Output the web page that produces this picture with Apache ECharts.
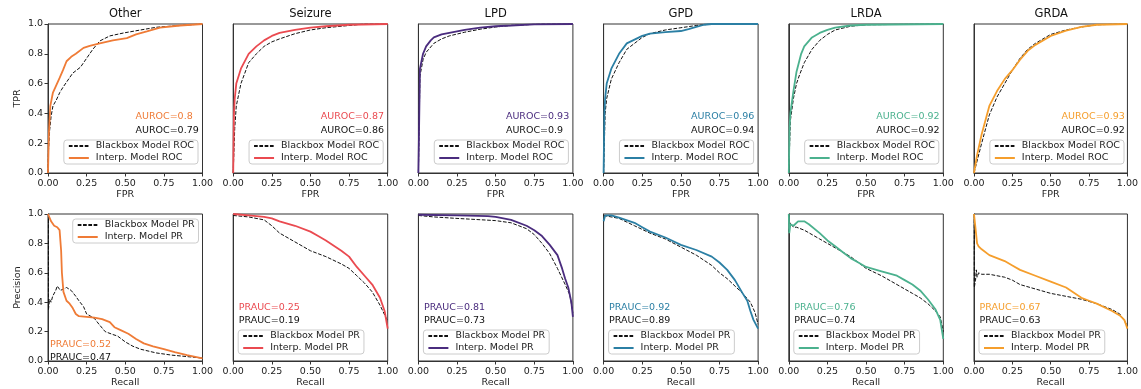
<!DOCTYPE html>
<html><head><meta charset="utf-8">
<script src="https://cdn.jsdelivr.net/npm/echarts@6/dist/echarts.min.js"></script>
<style>html,body{margin:0;padding:0;background:#fff}#c{width:1141px;height:389px}</style>
</head><body><div id="c"></div>
<script>
const classes = ['Other','Seizure','LPD','GPD','LRDA','GRDA'];
const aurocInterp = [0.8, 0.87, 0.93, 0.96, 0.92, 0.93];
const aurocBlack  = [0.79, 0.86, 0.9, 0.94, 0.92, 0.92];
const praucInterp = [0.52, 0.25, 0.81, 0.92, 0.76, 0.67];
const praucBlack  = [0.47, 0.19, 0.73, 0.89, 0.74, 0.63];
const xTicks = [0, 0.25, 0.5, 0.75, 1];
const yTicks = [0, 0.2, 0.4, 0.6, 0.8, 1];

// ROC curves [FPR, TPR]
const otherRocBB = [[0,0],[0.003,0.15],[0.011,0.29],[0.02,0.38],[0.032,0.45],[0.054,0.49],[0.076,0.54],[0.1,0.58],[0.12,0.61],[0.16,0.67],[0.21,0.71],[0.25,0.77],[0.29,0.83],[0.335,0.886],[0.4,0.92],[0.49,0.94],[0.6,0.96],[0.7,0.978],[0.855,0.99],[1,1]];
const otherRocIN = [[0,0],[0.006,0.27],[0.015,0.45],[0.032,0.54],[0.054,0.59],[0.076,0.64],[0.097,0.69],[0.12,0.75],[0.15,0.78],[0.18,0.8],[0.23,0.84],[0.27,0.853],[0.335,0.87],[0.42,0.89],[0.51,0.905],[0.57,0.93],[0.64,0.95],[0.725,0.975],[0.855,0.99],[1,1]];
const seizRocBB = [[0,0],[0.01,0.3],[0.02,0.45],[0.05,0.6],[0.1,0.74],[0.15,0.8],[0.2,0.85],[0.25,0.88],[0.3,0.9],[0.4,0.935],[0.5,0.96],[0.6,0.975],[0.75,0.99],[0.85,1],[1,1]];
const seizRocIN = [[0,0],[0.005,0.4],[0.01,0.5],[0.02,0.6],[0.05,0.7],[0.1,0.8],[0.15,0.85],[0.2,0.89],[0.25,0.92],[0.3,0.94],[0.4,0.96],[0.5,0.975],[0.6,0.985],[0.75,0.995],[1,1]];
const lpdRocBB = [[0,0],[0.01,0.65],[0.03,0.76],[0.05,0.81],[0.1,0.87],[0.15,0.9],[0.2,0.92],[0.3,0.945],[0.4,0.965],[0.5,0.98],[0.6,0.99],[0.8,1],[1,1]];
const lpdRocIN = [[0,0],[0.01,0.7],[0.03,0.8],[0.05,0.85],[0.08,0.89],[0.1,0.91],[0.15,0.93],[0.2,0.94],[0.25,0.95],[0.3,0.96],[0.4,0.975],[0.5,0.985],[0.6,0.99],[0.75,0.998],[1,1]];
const gpdRocBB = [[0,0],[0.01,0.4],[0.02,0.5],[0.05,0.63],[0.1,0.74],[0.15,0.83],[0.2,0.87],[0.25,0.91],[0.3,0.935],[0.4,0.96],[0.5,0.975],[0.6,0.99],[0.7,1],[1,1]];
const gpdRocIN = [[0,0],[0.005,0.4],[0.01,0.5],[0.02,0.6],[0.05,0.7],[0.1,0.8],[0.15,0.87],[0.2,0.895],[0.25,0.92],[0.3,0.935],[0.4,0.945],[0.5,0.953],[0.55,0.965],[0.6,0.98],[0.65,0.995],[0.7,1],[1,1]];
const lrdaRocBB = [[0,0],[0.01,0.35],[0.03,0.5],[0.05,0.6],[0.07,0.66],[0.1,0.74],[0.15,0.83],[0.2,0.89],[0.25,0.93],[0.3,0.96],[0.4,0.985],[0.5,0.995],[1,1]];
const lrdaRocIN = [[0,0],[0.005,0.3],[0.01,0.4],[0.03,0.55],[0.05,0.68],[0.08,0.8],[0.1,0.85],[0.15,0.91],[0.2,0.94],[0.25,0.96],[0.3,0.975],[0.4,0.99],[0.5,0.995],[1,1]];
const grdaRocBB = [[0,0],[0.02,0.08],[0.05,0.2],[0.1,0.39],[0.15,0.51],[0.2,0.6],[0.25,0.69],[0.3,0.77],[0.35,0.83],[0.4,0.87],[0.5,0.93],[0.6,0.96],[0.7,0.98],[0.8,0.995],[1,1]];
const grdaRocIN = [[0,0],[0.02,0.12],[0.05,0.26],[0.1,0.45],[0.15,0.55],[0.2,0.63],[0.25,0.69],[0.3,0.76],[0.35,0.82],[0.4,0.86],[0.5,0.92],[0.6,0.955],[0.7,0.98],[0.8,0.995],[1,1]];

// PR curves [Recall, Precision]
const otherPrBB = [[0.003,1],[0.003,0.35],[0.01,0.42],[0.02,0.4],[0.03,0.44],[0.05,0.48],[0.06,0.51],[0.08,0.48],[0.1,0.49],[0.12,0.5],[0.15,0.48],[0.18,0.44],[0.2,0.41],[0.23,0.37],[0.25,0.32],[0.3,0.29],[0.33,0.25],[0.37,0.2],[0.42,0.18],[0.45,0.17],[0.5,0.13],[0.55,0.1],[0.6,0.08],[0.7,0.055],[0.8,0.04],[0.9,0.03],[1,0.02]];
const otherPrIN = [[0,1],[0.01,1],[0.02,0.95],[0.04,0.92],[0.06,0.91],[0.075,0.89],[0.085,0.75],[0.09,0.6],[0.1,0.47],[0.12,0.41],[0.14,0.39],[0.16,0.36],[0.18,0.32],[0.2,0.305],[0.25,0.3],[0.3,0.295],[0.35,0.285],[0.4,0.265],[0.43,0.23],[0.47,0.21],[0.52,0.185],[0.57,0.15],[0.62,0.12],[0.68,0.1],[0.75,0.08],[0.82,0.06],[0.9,0.04],[1,0.018]];
const seizPrBB = [[0,0.99],[0.1,0.98],[0.2,0.96],[0.25,0.92],[0.3,0.87],[0.4,0.81],[0.5,0.75],[0.55,0.73],[0.6,0.71],[0.7,0.66],[0.75,0.63],[0.8,0.58],[0.85,0.53],[0.9,0.47],[0.95,0.38],[1,0.27]];
const seizPrIN = [[0,1],[0.1,0.99],[0.2,0.98],[0.25,0.97],[0.3,0.95],[0.4,0.92],[0.5,0.88],[0.55,0.85],[0.6,0.82],[0.7,0.75],[0.75,0.71],[0.8,0.64],[0.85,0.58],[0.9,0.52],[0.95,0.43],[0.98,0.34],[1,0.22]];
const lpdPrBB = [[0,0.99],[0.1,0.98],[0.25,0.97],[0.5,0.955],[0.6,0.94],[0.7,0.9],[0.75,0.86],[0.8,0.8],[0.85,0.73],[0.9,0.63],[0.95,0.52],[0.98,0.45],[1,0.33]];
const lpdPrIN = [[0,0.995],[0.25,0.99],[0.45,0.985],[0.5,0.98],[0.6,0.96],[0.7,0.92],[0.75,0.89],[0.8,0.85],[0.85,0.79],[0.9,0.72],[0.93,0.63],[0.95,0.56],[0.97,0.5],[0.99,0.4],[1,0.3]];
const gpdPrBB = [[0,0.99],[0.1,0.97],[0.2,0.92],[0.3,0.87],[0.4,0.83],[0.5,0.775],[0.6,0.72],[0.7,0.65],[0.75,0.6],[0.8,0.56],[0.85,0.51],[0.9,0.46],[0.95,0.4],[0.98,0.33],[1,0.25]];
const gpdPrIN = [[0,0.95],[0.01,0.99],[0.05,0.99],[0.1,0.975],[0.2,0.94],[0.25,0.91],[0.3,0.88],[0.4,0.84],[0.5,0.79],[0.6,0.755],[0.7,0.71],[0.75,0.67],[0.8,0.62],[0.85,0.55],[0.9,0.46],[0.93,0.41],[0.95,0.34],[0.97,0.28],[1,0.22]];
const lrdaPrBB = [[0,0.88],[0.01,0.94],[0.03,0.91],[0.05,0.91],[0.1,0.89],[0.2,0.83],[0.25,0.8],[0.3,0.77],[0.4,0.71],[0.5,0.63],[0.6,0.58],[0.7,0.52],[0.75,0.49],[0.8,0.46],[0.85,0.43],[0.9,0.39],[0.95,0.34],[0.98,0.3],[1,0.2]];
const lrdaPrIN = [[0,1],[0.003,0.87],[0.01,0.93],[0.03,0.92],[0.06,0.95],[0.1,0.95],[0.13,0.93],[0.2,0.87],[0.25,0.82],[0.3,0.78],[0.35,0.74],[0.4,0.7],[0.45,0.67],[0.5,0.64],[0.6,0.61],[0.7,0.58],[0.75,0.55],[0.8,0.52],[0.85,0.48],[0.9,0.42],[0.95,0.35],[0.98,0.28],[1,0.15]];
const grdaPrBB = [[0.002,1],[0.002,0.5],[0.01,0.55],[0.015,0.62],[0.02,0.57],[0.03,0.6],[0.05,0.59],[0.1,0.59],[0.2,0.57],[0.25,0.55],[0.3,0.52],[0.4,0.49],[0.5,0.46],[0.6,0.44],[0.7,0.42],[0.8,0.39],[0.9,0.35],[0.95,0.32],[1,0.24]];
const grdaPrIN = [[0,1],[0.01,0.9],[0.02,0.8],[0.03,0.78],[0.05,0.76],[0.1,0.72],[0.15,0.7],[0.2,0.68],[0.25,0.65],[0.3,0.62],[0.4,0.58],[0.5,0.54],[0.6,0.5],[0.7,0.43],[0.75,0.41],[0.8,0.39],[0.9,0.34],[0.95,0.31],[0.98,0.28],[1,0.22]];

const rocBB = [otherRocBB, seizRocBB, lpdRocBB, gpdRocBB, lrdaRocBB, grdaRocBB];
const rocIN = [otherRocIN, seizRocIN, lpdRocIN, gpdRocIN, lrdaRocIN, grdaRocIN];
const prBB = [otherPrBB, seizPrBB, lpdPrBB, gpdPrBB, lrdaPrBB, grdaPrBB];
const prIN = [otherPrIN, seizPrIN, lpdPrIN, gpdPrIN, lrdaPrIN, grdaPrIN];

const colors = ['#EF7B36','#EA4A50','#4A2C7E','#2B7FA4','#4BB18E','#F59E2C'];
const FONT = '"DejaVu Sans", sans-serif';
const W = 1141;
const pLeft = c => 48 + c * 185.2;
const pW = 154.5, pH = 149;
const rowTop = [24, 214];

const grid = [], xAxis = [], yAxis = [], series = [], legend = [], graphic = [];
for (let r = 0; r < 2; r++) {
  for (let c = 0; c < 6; c++) {
    const k = r * 6 + c;
    grid.push({left: pLeft(c), top: rowTop[r], width: pW, height: pH, show: true,
      borderColor: '#333', borderWidth: 1, backgroundColor: '#fff'});
    xAxis.push({gridIndex: k, type: 'value', min: 0, max: 1, interval: 0.25,
      name: r === 0 ? 'FPR' : 'Recall', nameLocation: 'middle', nameGap: 17,
      nameTextStyle: {fontSize: 9.5, color: '#222', fontFamily: FONT},
      axisLine: {show: true, lineStyle: {color: '#333', width: 1}},
      axisTick: {show: true, length: 3.5, lineStyle: {color: '#333'}},
      axisLabel: {fontSize: 9.5, color: '#222', fontFamily: FONT, margin: 5.5,
        formatter: v => xTicks.includes(v) ? v.toFixed(2) : ''},
      splitLine: {show: false}});
    yAxis.push({gridIndex: k, type: 'value', min: 0, max: 1, interval: 0.2,
      name: c === 0 ? (r === 0 ? 'TPR' : 'Precision') : '', nameLocation: 'middle', nameGap: 25,
      nameTextStyle: {fontSize: 9.5, color: '#222', fontFamily: FONT},
      axisLine: {show: true, lineStyle: {color: '#333', width: 1}},
      axisTick: {show: c === 0, length: 3.5, lineStyle: {color: '#333'}},
      axisLabel: {show: c === 0, fontSize: 9.5, color: '#222', fontFamily: FONT, margin: 5,
        formatter: v => yTicks.some(t => Math.abs(t - v) < 1e-9) ? v.toFixed(1) : ''},
      splitLine: {show: false}});
    const bbName = (r === 0 ? 'Blackbox Model ROC' : 'Blackbox Model PR') + '#' + k;
    const inName = (r === 0 ? 'Interp. Model ROC' : 'Interp. Model PR') + '#' + k;
    series.push({type: 'line', name: bbName, xAxisIndex: k, yAxisIndex: k,
      data: r === 0 ? rocBB[c] : prBB[c], symbol: 'none', animation: false, clip: true,
      lineStyle: {color: '#111', width: 1, type: [3.7, 1.6]}, itemStyle: {color: '#111'}});
    series.push({type: 'line', name: inName, xAxisIndex: k, yAxisIndex: k,
      data: r === 0 ? rocIN[c] : prIN[c], symbol: 'none', animation: false, clip: true,
      lineStyle: {color: colors[c], width: 1.8}, itemStyle: {color: colors[c]}});
    const lg = {data: [bbName, inName], orient: 'vertical', selectedMode: false,
      itemWidth: 20, itemHeight: 12, itemGap: 2, padding: [1, 4, 1, 4],
      borderColor: '#ccc', borderWidth: 1, borderRadius: 3, backgroundColor: 'rgba(255,255,255,0.8)',
      itemStyle: {opacity: 0, borderWidth: 0},
      textStyle: {fontSize: 9.5, color: '#222', fontFamily: FONT, padding: [0, 0, 0, 2]},
      formatter: n => n.split('#')[0]};
    const pRight = pLeft(c) + pW;
    if (r === 0) { lg.right = W - (pRight - 4.5); lg.top = 140; }
    else if (c === 0) { lg.right = W - (pRight - 4); lg.top = 219; }
    else { lg.left = pLeft(c) + 5; lg.top = 330; }
    legend.push(lg);
  }
}
classes.forEach((t, c) => {
  graphic.push({type: 'text', x: pLeft(c) + pW / 2, y: 14,
    style: {text: t, font: '11.5px ' + FONT, fill: '#111', align: 'center', verticalAlign: 'middle'}});
  const ax = pLeft(c) + 87.5;
  graphic.push({type: 'text', x: ax, y: 117,
    style: {text: 'AUROC=' + aurocInterp[c], font: '9.5px ' + FONT, fill: colors[c], align: 'left', verticalAlign: 'middle'}});
  graphic.push({type: 'text', x: ax, y: 131,
    style: {text: 'AUROC=' + aurocBlack[c], font: '9.5px ' + FONT, fill: '#111', align: 'left', verticalAlign: 'middle'}});
  const px = pLeft(c) + (c === 0 ? 2 : 5.5);
  const py = c === 0 ? 345 : 308;
  graphic.push({type: 'text', x: px, y: py,
    style: {text: 'PRAUC=' + praucInterp[c], font: '9.5px ' + FONT, fill: colors[c], align: 'left', verticalAlign: 'middle'}});
  graphic.push({type: 'text', x: px, y: py + 13,
    style: {text: 'PRAUC=' + praucBlack[c], font: '9.5px ' + FONT, fill: '#111', align: 'left', verticalAlign: 'middle'}});
});

const chart = echarts.init(document.getElementById('c'), null, {renderer: 'canvas'});
chart.setOption({animation: false, backgroundColor: '#fff', grid, xAxis, yAxis, series, legend, graphic,
  textStyle: {fontFamily: FONT}});
</script></body></html>
